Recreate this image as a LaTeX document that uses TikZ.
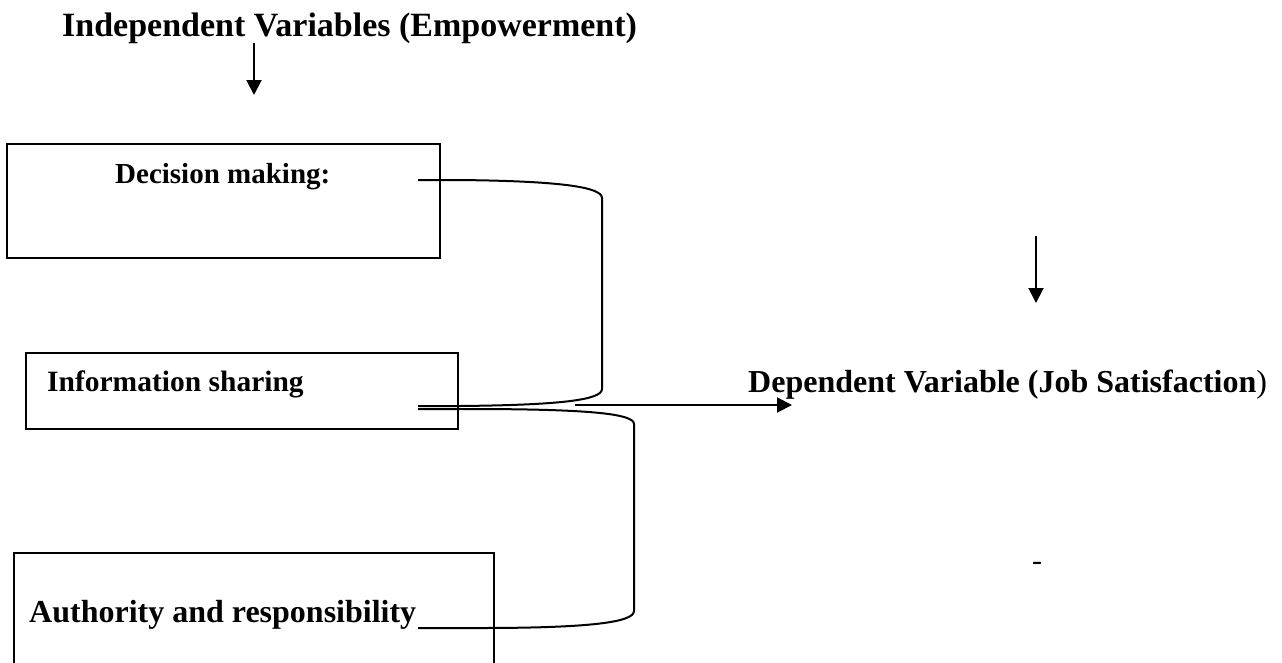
\documentclass[tikz,border=0pt]{standalone}
\usepackage{fontspec}
\setmainfont{Liberation Serif}
\usetikzlibrary{arrows.meta,positioning}

\tikzset{
  box/.style={draw, line width=2pt, inner sep=0pt},
  lbl/.style={font=\fontsize{30}{36}\selectfont\bfseries, inner sep=0pt, anchor=base west},
  link/.style={line width=2pt},
  arr/.style={line width=2pt, -{Triangle[width=15pt,length=15pt]}}
}

\begin{document}
\begin{tikzpicture}[x=1pt, y=-1pt]
            \clip (0,0) rectangle (1282,662);
            % boxes on the left
            \node[box, minimum width=433pt, minimum height=114pt] (decbox) at (223.5,201) {};
            \node[box, minimum width=432pt, minimum height=76pt]  (infbox) at (242,391) {};
            \node[box, minimum width=480pt, minimum height=147pt] (autbox) at (254,626.5) {};
            % texts
            \node[lbl, font=\fontsize{34}{40}\selectfont\bfseries] (indep) at (62,36) {Independent Variables (Empowerment)};
            \node[lbl, font=\fontsize{29}{35}\selectfont\bfseries] (dec) at (115,183) {Decision making:};
            \node[lbl, font=\fontsize{29.5}{35}\selectfont\bfseries] (inf) at (47,391) {Information sharing};
            \node[lbl, font=\fontsize{32}{38}\selectfont\bfseries] (aut) at (29,622) {Authority and responsibility};
            \node[lbl, font=\fontsize{32}{38}\selectfont\bfseries] (dep) at (748,392) {Dependent Variable (Job Satisfaction\textmd{)}};
            \node[lbl, font=\fontsize{30}{36}\selectfont, anchor=center] (dash) at (1037,566) {-};
            % free ends of the links
            \coordinate (decend) at (418,180);
            \coordinate (infend) at (418,406);
            \coordinate (infend2) at (418,409);
            \coordinate (autend) at (418,628);
            \coordinate (tipin) at (575,405);
            \coordinate (tipout) at (792,405);
            \coordinate (topin) at (254,43);
            \coordinate (topout) at (254,95);
            \coordinate (rtin) at (1036,236);
            \coordinate (rtout) at (1036,303);
            % braces joining the boxes
            \draw[link] (decend) -- ++(40,0)
                  .. controls (560,181) and (602,187) .. (602,198) -- (602,389)
                  .. controls (602,400) and (560,405) .. (460,406) -- (infend);
            \draw[link] (infend2) -- ++(50,0)
                  .. controls (592,409) and (634,414) .. (634,424) -- (634,611)
                  .. controls (634,622) and (592,628) .. (480,628) -- (autend);
            % arrows
            \draw[arr] (topin) -- (topout);
            \draw[arr] (tipin) -- (tipout);
            \draw[arr] (rtin) -- (rtout);
          \end{tikzpicture}
\end{document}
